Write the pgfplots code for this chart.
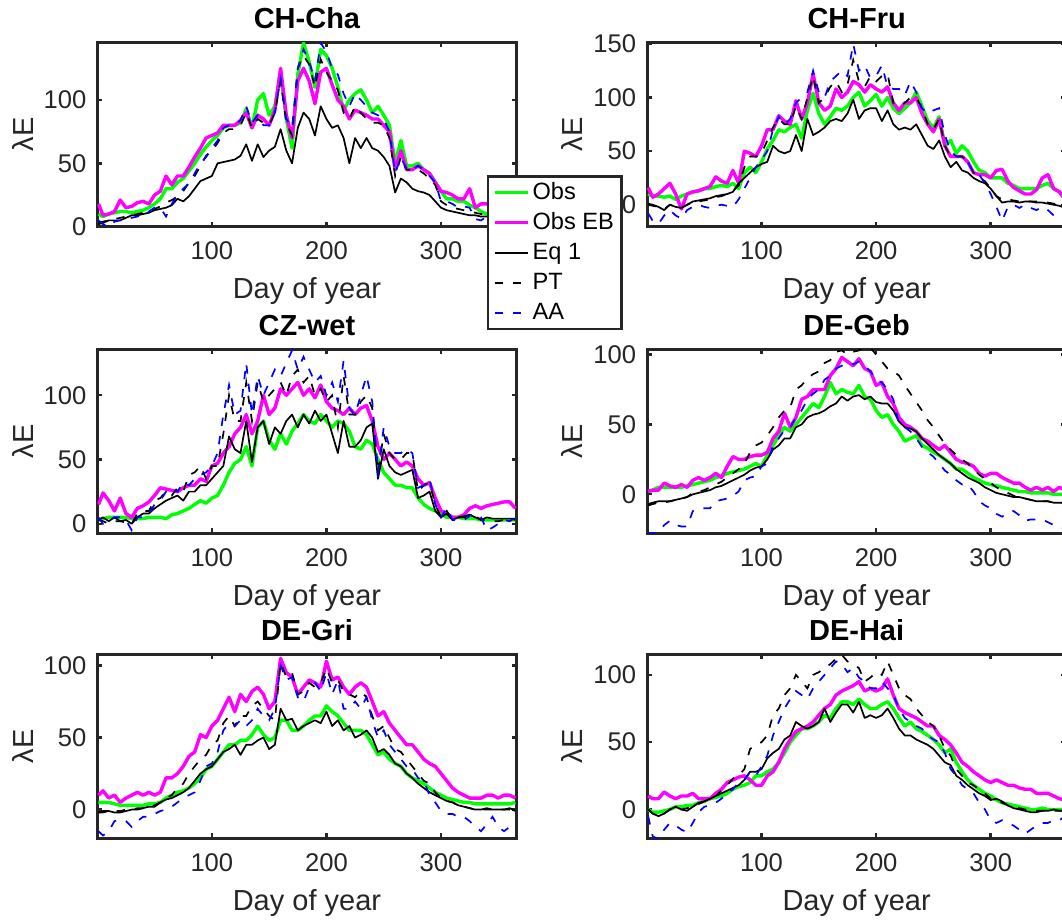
\documentclass[border=0pt]{standalone}
\usepackage{fontspec}
\setmainfont{Liberation Sans}
\usepackage{pgfplots}
\pgfplotsset{compat=1.18}
\usepackage{pgfplotstable}
\definecolor{axgray}{rgb}{0.15,0.15,0.15}
\definecolor{obsgreen}{rgb}{0,1,0}
\definecolor{ebmag}{rgb}{1,0,1}
\definecolor{aablue}{rgb}{0,0,1}

\pgfplotstableread{
x o e q p a
1 10 18 2 3 5
5 8 9 3 4 2
10 10 10 5 5 0
15 11 12 5 6 4
20 12 21 5 7 5
25 12 15 7 8 5
30 11 16 9 9 7
35 12 19 9 10 8
40 13 20 10 11 10
45 15 18 11 12 12
50 18 25 13 14 15
55 22 28 14 16 15
60 30 40 15 19 8
65 30 33 17 21 18
70 35 40 22 24 25
75 38 40 20 28 30
80 44 47 24 35 34
85 50 55 30 40 42
90 57 62 36 48 50
95 63 70 38 56 55
100 68 72 40 60 62
105 72 74 50 66 68
110 78 80 51 74 78
115 80 80 52 77 80
120 80 80 53 77 80
125 82 84 56 80 84
130 93 90 65 90 95
135 78 78 52 78 82
140 100 88 65 85 88
145 105 85 55 82 80
150 88 80 60 80 80
155 95 92 63 90 90
160 122 125 77 115 117
165 85 88 60 82 85
170 62 70 50 72 78
175 120 115 78 125 125
180 145 125 90 135 140
185 130 115 85 128 130
190 110 97 72 110 115
195 140 122 95 132 145
200 135 125 85 122 138
205 125 112 78 115 125
210 110 100 80 108 120
215 92 95 70 90 105
220 100 85 50 85 95
225 105 92 70 95 105
230 108 90 62 90 100
235 100 88 70 85 95
240 90 85 62 82 90
245 95 85 60 82 88
250 88 80 55 80 85
255 80 75 48 70 75
260 50 45 27 40 42
265 68 60 38 55 55
270 48 45 35 45 45
275 48 45 30 45 45
280 50 48 28 45 48
285 45 45 27 42 45
290 42 42 25 38 40
295 35 35 20 33 35
300 28 28 15 20 20
305 22 27 13 17 20
310 22 25 12 15 18
315 20 22 11 14 15
320 20 22 10 13 16
325 17 30 9 12 15
330 15 15 9 11 6
335 12 18 8 10 5
340 10 18 8 10 8
345 10 20 8 9 8
350 10 20 8 9 8
355 9 18 7 8 7
360 8 15 6 7 6
365 8 15 6 7 6
}\tabChCha

\pgfplotstableread{
x o e q p a
1 10 16 1 0 -8
5 8 7 0 -1 -15
10 8 10 -2 -2 -18
15 7 15 -5 -4 -10
20 8 20 0 0 -5
25 5 10 -2 -2 -10
30 8 -4 -3 -3 -13
35 10 10 0 0 -5
40 12 12 3 2 -2
45 13 13 4 3 0
50 15 15 5 4 -2
55 15 17 6 5 -3
60 17 26 8 7 -1
65 18 22 9 8 0
70 17 20 10 10 -1
75 20 32 12 13 -2
80 15 20 20 18 5
85 30 50 25 35 15
90 35 48 30 45 25
95 30 45 35 45 35
100 40 55 38 48 42
105 52 70 40 60 50
110 60 70 55 72 70
115 70 83 50 80 82
120 68 78 48 75 75
125 72 75 50 75 80
130 75 97 65 92 95
135 62 80 50 80 100
140 88 95 80 100 105
145 104 122 65 120 125
150 85 95 68 95 105
155 75 88 72 100 100
160 82 92 78 110 115
165 90 108 80 115 120
170 88 100 78 105 125
175 92 105 85 112 120
180 100 115 98 135 150
185 105 112 80 115 125
190 92 105 88 110 130
195 97 112 90 120 118
200 103 108 90 115 120
205 92 105 78 120 130
210 100 110 88 122 110
215 90 95 75 95 108
220 85 88 70 92 108
225 90 95 72 95 102
230 95 95 70 100 115
235 105 100 75 100 105
240 92 85 65 90 90
245 78 75 55 75 85
250 72 68 52 70 88
255 82 80 60 80 90
260 55 55 45 55 65
265 60 45 35 45 50
270 48 45 40 45 45
275 55 45 32 45 45
280 50 40 30 40 40
285 40 30 25 30 30
290 32 28 22 25 28
295 30 28 20 22 20
300 25 25 15 15 10
305 25 32 8 8 -2
310 25 33 2 5 -15
315 20 22 3 5 -2
320 18 16 3 4 0
325 15 13 2 3 -3
330 15 10 3 3 0
335 15 10 3 3 -3
340 15 14 2 3 -5
345 18 25 2 2 -2
350 20 28 1 2 -5
355 15 15 0 1 -10
360 12 12 -1 0 -8
365 5 5 -3 -2 -5
}\tabChFru

\pgfplotstableread{
x o e q p a
1 3 15 3 3 5
5 4 24 5 2 0
10 5 18 2 0 3
15 5 10 5 2 5
20 5 20 2 2 5
25 5 8 3 1 3
30 4 5 0 0 -5
35 4 12 5 8 5
40 4 14 8 10 5
45 5 17 8 10 8
50 5 22 12 18 15
55 5 28 15 20 18
60 4 27 18 25 25
65 7 26 20 22 28
70 8 25 22 28 25
75 10 28 18 25 32
80 12 30 25 38 30
85 15 30 25 40 35
90 18 35 30 45 38
95 16 33 30 35 40
100 20 45 35 45 45
105 22 47 40 45 55
110 30 55 45 70 85
115 40 60 68 100 108
120 47 70 58 80 85
125 50 75 55 80 88
130 60 85 80 110 125
135 45 70 48 80 85
140 75 80 75 110 115
145 80 100 80 95 100
150 65 85 62 100 110
155 58 90 75 105 120
160 70 105 70 110 115
165 62 100 80 100 125
170 72 105 85 115 135
175 78 110 75 120 120
180 85 100 85 110 130
185 80 105 78 115 120
190 78 98 88 100 110
195 85 108 80 105 115
200 80 95 85 95 100
205 75 90 70 100 110
210 80 88 55 75 95
215 78 85 80 115 127
220 72 90 60 85 90
225 60 85 60 85 85
230 58 90 65 95 100
235 65 92 75 100 115
240 62 80 78 90 95
245 50 60 35 40 40
250 40 50 58 70 75
255 35 55 45 55 60
260 30 50 40 50 55
265 30 45 38 50 55
270 28 48 40 55 58
275 28 45 42 55 55
280 20 35 20 25 28
285 15 30 22 30 30
290 12 32 25 32 35
295 10 20 10 15 15
300 8 10 5 5 5
305 5 8 8 10 12
310 5 5 3 3 3
315 5 5 5 5 3
320 4 7 6 5 3
325 4 12 7 6 6
330 4 14 5 6 8
335 3 12 3 3 5
340 3 14 5 3 -5
345 3 15 4 2 -3
350 3 16 4 2 0
355 3 17 4 3 3
360 3 17 4 4 2
365 3 12 4 3 5
}\tabCzWet

\pgfplotstableread{
x o e q p a
1 2 2 -7 -8 -28
5 3 3 -6 -7 -28
10 5 3 -5 -6 -28
15 5 8 -5 -6 -22
20 5 6 -5 -5 -19
25 5 5 -4 -4 -22
30 5 7 -3 -3 -23
35 6 5 -2 -2 -23
40 7 10 0 1 -12
45 8 12 1 2 -11
50 9 10 2 3 -10
55 10 12 3 5 -10
60 12 15 5 7 -5
65 13 12 6 9 -4
70 15 20 8 12 -3
75 16 27 10 15 -1
80 17 25 12 18 2
85 18 25 14 22 10
90 20 27 17 30 12
95 22 28 19 35 13
100 20 28 20 37 20
105 28 30 25 42 22
110 35 40 32 48 35
115 42 45 35 55 40
120 48 58 40 60 46
125 45 48 40 62 48
130 50 55 48 75 55
135 55 68 50 78 60
140 60 70 55 83 68
145 65 75 57 86 72
150 62 75 58 88 75
155 70 75 60 94 82
160 80 85 63 96 85
165 72 90 65 102 90
170 75 98 70 103 92
175 73 95 67 100 94
180 72 92 70 102 93
185 78 97 71 103 95
190 70 90 68 105 92
195 68 88 70 105 88
200 60 78 66 100 82
205 55 80 65 95 80
210 57 70 65 90 75
215 50 65 60 88 68
220 45 55 52 85 50
225 38 50 48 78 48
230 40 48 47 72 45
235 42 45 45 66 40
240 35 40 40 60 34
245 33 38 36 53 30
250 30 35 32 48 27
255 28 32 28 42 22
260 25 35 25 36 17
265 22 30 22 32 14
270 18 25 18 28 10
275 18 23 15 25 7
280 15 22 12 22 7
285 12 20 10 18 2
290 10 15 8 14 -5
295 8 13 5 11 -8
300 7 15 3 8 -10
305 6 15 1 5 -14
310 5 12 0 3 -16
315 4 10 -1 1 -13
320 3 8 -2 -1 -12
325 2 8 -2 -2 -15
330 2 5 -3 -3 -19
335 1 3 -4 -4 -18
340 1 5 -5 -5 -18
345 1 3 -5 -5 -18
350 1 5 -5 -5 -20
355 0 2 -6 -6 -22
360 0 5 -6 -6 -23
365 0 3 -6 -6 -25
}\tabDeGeb

\pgfplotstableread{
x o e q p a
1 5 10 -2 -2 -15
5 5 13 -1 -2 -18
10 5 8 -1 -1 -15
15 4 10 -2 -1 -8
20 3 5 -2 -1 -7
25 3 8 -1 0 -8
30 3 10 0 0 -12
35 3 12 0 1 -8
40 3 10 1 1 -5
45 4 12 2 2 -5
50 4 10 2 3 -3
55 5 12 5 5 -1
60 8 22 7 8 0
65 10 22 8 10 2
70 12 25 10 15 5
75 13 30 12 18 8
80 15 37 15 25 10
85 18 40 20 30 12
90 22 52 25 35 20
95 28 50 28 38 30
100 30 58 30 45 32
105 35 62 35 48 40
110 40 70 40 60 55
115 45 78 42 65 60
120 45 68 45 58 58
125 48 80 38 65 62
130 48 75 45 65 58
135 52 82 45 72 62
140 58 85 48 75 70
145 52 80 50 70 65
150 48 70 42 65 62
155 50 75 45 62 70
160 62 105 70 102 100
165 62 95 62 92 90
170 55 92 63 95 92
175 55 80 55 80 78
180 58 85 58 82 75
185 62 90 60 88 85
190 65 88 62 85 88
195 65 85 60 88 82
200 72 103 68 98 95
205 68 90 58 88 80
210 65 92 62 90 90
215 60 85 55 82 70
220 55 80 58 80 70
225 55 85 50 78 75
230 55 88 52 82 70
235 52 85 55 78 78
240 45 75 50 65 62
245 38 65 40 55 50
250 40 68 42 58 55
255 35 60 38 50 45
260 32 55 32 42 40
265 30 50 30 40 35
270 25 45 25 35 30
275 22 45 22 30 28
280 20 40 18 25 22
285 18 35 15 20 20
290 15 32 12 18 10
295 12 30 10 12 5
300 10 25 8 8 -1
305 8 20 6 6 -3
310 7 15 5 5 -3
315 6 12 3 3 -5
320 5 10 2 2 -5
325 5 8 1 1 -8
330 4 8 0 0 -12
335 4 8 0 0 -15
340 4 10 1 0 -10
345 4 10 0 0 -5
350 4 8 0 0 -12
355 4 10 0 0 -15
360 4 10 1 0 -12
365 5 8 -1 -1 -15
}\tabDeGri

\pgfplotstableread{
x o e q p a
1 0 10 0 0 -5
5 -2 8 -3 -3 -20
10 -2 8 -5 -5 -22
15 -1 13 -3 -3 -15
20 0 10 0 0 -10
25 2 8 2 1 -12
30 2 10 0 0 -15
35 3 10 -1 1 -17
40 3 12 2 2 -10
45 5 8 5 4 -2
50 6 8 6 6 2
55 8 8 8 8 3
60 9 12 10 10 5
65 10 15 12 14 8
70 12 20 14 18 12
75 15 22 16 23 15
80 17 24 18 25 20
85 18 25 22 30 22
90 20 22 28 45 28
95 25 18 28 48 25
100 25 18 30 50 32
105 28 25 38 55 40
110 30 28 42 70 55
115 35 35 45 75 65
120 42 45 52 85 75
125 50 52 55 90 82
130 55 58 65 100 88
135 60 60 62 95 85
140 60 62 60 90 82
145 62 65 62 100 90
150 65 70 65 102 95
155 70 75 75 105 100
160 68 78 65 108 105
165 75 85 72 112 110
170 80 88 78 115 108
175 80 90 78 110 102
180 78 92 72 108 105
185 82 95 80 105 98
190 78 88 68 95 95
195 75 90 70 98 90
200 75 88 68 102 90
205 78 90 70 100 95
210 80 97 75 110 90
215 75 85 68 100 85
220 68 75 60 90 75
225 62 72 55 85 68
230 65 70 55 82 65
235 60 68 52 75 62
240 58 65 50 70 60
245 55 62 48 65 55
250 52 62 45 62 52
255 48 55 40 55 50
260 42 52 35 45 42
265 45 48 33 40 30
270 35 42 25 30 25
275 28 35 22 25 18
280 22 32 18 20 15
285 18 28 15 18 12
290 15 25 12 15 5
295 12 22 10 12 0
300 10 20 7 8 -8
305 7 22 8 7 -10
310 5 20 6 5 -8
315 4 18 3 3 -10
320 3 18 1 2 -12
325 2 16 0 1 -15
330 1 15 -1 0 -18
335 0 15 -2 -1 -15
340 0 12 -2 -1 -12
345 1 12 -1 -1 -10
350 0 12 -1 -1 -10
355 0 10 0 -1 -8
360 0 8 -1 -1 -8
365 0 7 -1 -1 -5
}\tabDeHai

\pgfplotsset{
  obsst/.style={color=obsgreen, line width=1.7pt, line join=round},
  ebst/.style={color=ebmag, line width=1.7pt, line join=round},
  eqst/.style={color=black, line width=0.85pt, line join=round},
  ptst/.style={color=black, line width=0.85pt, dash pattern=on 4.2pt off 5pt},
  aast/.style={color=aablue, line width=0.85pt, dash pattern=on 4.2pt off 5pt},
  panel/.style={
    scale only axis, width=209.65pt, height=92.2pt,
    anchor=north west,
    xmin=0, xmax=366,
    xtick={100,200,300},
    ytick={0,50,100,150},
    axis line style={axgray, line width=1.5pt},
    every tick/.style={axgray, line width=1.2pt},
    tick align=inside, major tick length=2.5pt,
    ticklabel style={font=\fontsize{12.8}{14}\selectfont, text=axgray},
    /pgf/number format/assume math mode=true,
    xticklabel style={anchor=base, yshift=-16.6pt, inner sep=0pt},
    yticklabel style={anchor=east, xshift=-5.3pt, inner sep=0pt},
    xlabel={Day of year},
    ylabel={λE},
    label style={font=\fontsize{14.5}{16}\selectfont, text=axgray},
    xlabel style={at={(axis description cs:0.5,0)}, anchor=base, yshift=-36pt},
    ylabel style={at={(axis description cs:-0.178,0.5)}, anchor=center},
    title style={font=\bfseries\fontsize{14.5}{16}\selectfont, at={(axis description cs:0.5,1)}, anchor=base, yshift=0.8pt},
    legend image code/.code={\draw[#1] (0pt,0pt) -- (16.7pt,0pt);},
  }
}
\newcommand{\fiveplots}[1]{%
  \addplot[obsst] table[x=x,y=o]{#1};
  \addplot[ebst] table[x=x,y=e]{#1};
  \addplot[eqst] table[x=x,y=q]{#1};
  \addplot[ptst] table[x=x,y=p]{#1};
  \addplot[aast] table[x=x,y=a]{#1};
}

\begin{document}
\begin{tikzpicture}
\begin{axis}[panel, at={(48.65pt,-21.15pt)}, title={CH-Cha}, ymin=0, ymax=145.5,
  legend entries={Obs,Obs EB,Eq 1,PT,AA},
  legend cell align=left,
  legend style={at={(axis description cs:0.9287,0.2804)}, anchor=north west,
    draw=axgray, line width=1.3pt, fill=white,
    font=\fontsize{11.8}{14}\selectfont,
    inner xsep=2.4pt, inner ysep=0.7pt, row sep=0pt,
    nodes={inner xsep=1.5pt, inner ysep=0pt, minimum height=15pt, text=black}}]
\fiveplots{\tabChCha}
\end{axis}
\begin{axis}[panel, at={(323.5pt,-21.15pt)}, title={CH-Fru}, ymin=-20.5, ymax=151.5]
\fiveplots{\tabChFru}
\end{axis}
\begin{axis}[panel, at={(48.65pt,-174.5pt)}, title={CZ-wet}, ymin=-7.5, ymax=136]
\fiveplots{\tabCzWet}
\end{axis}
\begin{axis}[panel, at={(323.5pt,-174.5pt)}, title={DE-Geb}, ymin=-28, ymax=104]
\fiveplots{\tabDeGeb}
\end{axis}
\begin{axis}[panel, at={(48.65pt,-327pt)}, title={DE-Gri}, ymin=-20, ymax=108]
\fiveplots{\tabDeGri}
\end{axis}
\begin{axis}[panel, at={(323.5pt,-327pt)}, title={DE-Hai}, ymin=-21.5, ymax=115.5]
\fiveplots{\tabDeHai}
\end{axis}
\pgfresetboundingbox
\useasboundingbox (0pt,0pt) rectangle (531pt,-461pt);
\end{tikzpicture}
\end{document}
